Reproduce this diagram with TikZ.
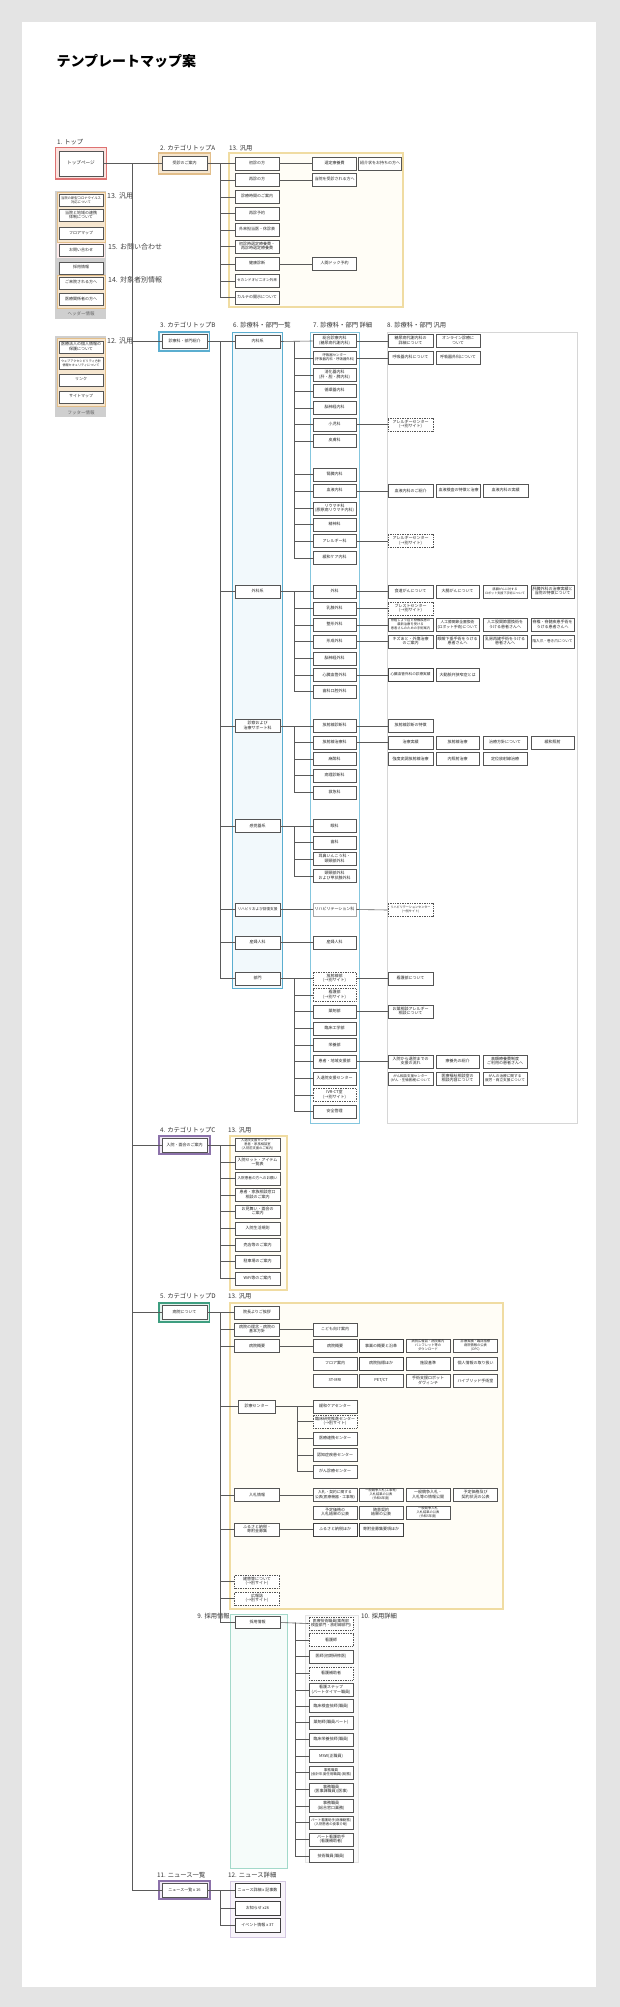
\documentclass[tikz,border=0pt]{standalone}
\usepackage{fontspec}
\setmainfont{Noto Sans CJK JP}
\usepackage{adjustbox}
\definecolor{bgc}{HTML}{E4E4E4}
\definecolor{boxc}{HTML}{555555}
\definecolor{linec}{HTML}{5A5A5A}
\definecolor{yelc}{HTML}{F0DCA2}
\definecolor{yelf}{HTML}{FFFDF6}
\definecolor{redc}{HTML}{DE7272}
\definecolor{redf}{HTML}{FBE2DE}
\definecolor{tanc}{HTML}{E2BE8A}
\definecolor{tanf}{HTML}{F6E6CF}
\definecolor{hdrc}{HTML}{CFCFCF}
\definecolor{bluc}{HTML}{5BAED0}
\definecolor{bluf}{HTML}{F2F9FC}
\definecolor{blu2}{HTML}{84C6DE}
\definecolor{grc}{HTML}{D6D6D6}
\definecolor{grnc}{HTML}{3E9E80}
\definecolor{grnf}{HTML}{E2F2EC}
\definecolor{purc}{HTML}{8C72AA}
\definecolor{purf}{HTML}{F0E9F6}
\definecolor{pur2}{HTML}{D4C8E2}
\definecolor{tealc}{HTML}{A3D9CA}
\definecolor{tealf}{HTML}{F6FCFA}
\newcommand{\T}[1]{\adjustbox{max totalsize={40pt}{11.6pt}}{\begin{tabular}{@{}c@{}}#1\end{tabular}}}
\newcommand{\B}[4][]{\node[bx,#1] (#2) at (#3) {\T{#4}};}
\tikzset{
  bx/.style={draw=boxc, fill=white, line width=0.55pt, minimum width=44pt, minimum height=13pt, inner sep=0pt, font=\fontsize{4}{4.6}\selectfont, text=black!85},
  dsh/.style={dash pattern=on 1pt off 0.7pt},
  lite/.style={draw=black!35},
  shd/.style={line width=0.9pt, draw=black!75},
  ln/.style={draw=linec, line width=0.6pt},
  lb/.style={font=\fontsize{6.3}{7}\selectfont, anchor=west, inner sep=0pt, text=black!80},
  hlb/.style={font=\fontsize{7}{8}\selectfont, anchor=west, inner sep=0pt, text=black!75},
  yfr/.style={draw=yelc, fill=yelf, line width=1.2pt},
}
\begin{document}
\begin{tikzpicture}[x=1pt,y=-1pt]
\useasboundingbox (0,0) rectangle (620,2007);
\fill[bgc] (0,0) rectangle (620,2007);
\fill[white] (22,22) rectangle (596,1987);

\node[anchor=west, font=\fontsize{14}{16}\selectfont\bfseries] (title) at (53,61.5) {テンプレートマップ案};

% ---------- frames ----------
\draw[draw=redc, fill=redf, line width=1.3pt] (55.5,147.5) rectangle (106.5,179);
\fill[hdrc] (55,191) rectangle (106,319);
\fill[tanf] (57,192.5) rectangle (105,242);
\draw[tanc, line width=0.8pt] (57,192.5) rectangle (105,242);
\fill[white!92!red] (57,243) rectangle (105,258);
\fill[tanf] (57,275) rectangle (105,308);
\draw[tanc, line width=0.8pt] (57,275) rectangle (105,308);
\fill[hdrc] (55,336) rectangle (106,417);
\fill[tanf] (57,338) rectangle (105,406);
\draw[tanc, line width=0.8pt] (57,338) rectangle (105,406);

\draw[draw=tanc, fill=tanf, line width=1.3pt] (158.5,153) rectangle (210.5,174);
\draw[yfr] (229,153) rectangle (403,307);
\draw[draw=bluc, fill=bluf, line width=1.3pt] (159,332) rectangle (209.5,351);
\draw[draw=bluc, fill=bluf, line width=1pt] (232,332) rectangle (282,988);
\draw[draw=blu2, fill=white, line width=0.8pt] (310,332) rectangle (359,1123);
\draw[draw=grc, fill=white, line width=0.8pt] (387,332) rectangle (577,1123);
\draw[draw=purc, fill=purf, line width=1.3pt] (159,1136) rectangle (210,1154);
\draw[yfr] (230,1136) rectangle (287,1290);
\draw[draw=grnc, fill=grnf, line width=1.3pt] (159,1303) rectangle (209.5,1322);
\draw[yfr] (230,1303) rectangle (503,1609);
\draw[draw=tealc, fill=tealf, line width=1pt] (230,1614) rectangle (287,1868);
\draw[draw=black!10, fill=black!2, line width=0.6pt] (305,1615) rectangle (358,1862);
\draw[draw=purc, fill=purf, line width=1.3pt] (159,1881) rectangle (210,1899);
\draw[draw=pur2, fill=purf!50, line width=1pt] (230,1881) rectangle (285,1937);

% ---------- labels ----------
\node[lb] (L1) at (57,142.5) {1. トップ};
\node[hlb] (Lh13) at (107,196) {13. 汎用};
\node[hlb] (Lh15) at (108,247) {15. お問い合わせ};
\node[hlb] (Lh14) at (108,280) {14. 対象者別情報};
\node[hlb] (Lf12) at (107,341) {12. 汎用};
\node[font=\fontsize{4.5}{5}\selectfont, text=black!60] (Lhd) at (81,313.5) {ヘッダー情報};
\node[font=\fontsize{4.5}{5}\selectfont, text=black!60] (Lft) at (81,412.5) {フッター情報};
\node[lb] (L2) at (160,148) {2. カテゴリトップA};
\node[lb] (L13a) at (229,148) {13. 汎用};
\node[lb] (L3) at (160,325.5) {3. カテゴリトップB};
\node[lb] (L6) at (233,325.5) {6. 診療科・部門一覧};
\node[lb] (L7) at (313,325.5) {7. 診療科・部門 詳細};
\node[lb] (L8) at (387,325.5) {8. 診療科・部門 汎用};
\node[lb] (L4) at (160,1130) {4. カテゴリトップC};
\node[lb] (L13c) at (228,1130) {13. 汎用};
\node[lb] (L5) at (160,1296.5) {5. カテゴリトップD};
\node[lb] (L13d) at (228,1296.5) {13. 汎用};
\node[lb, anchor=east] (L9) at (230,1616) {9. 採用情報};
\node[lb] (L10) at (361,1616) {10. 採用詳細};
\node[lb] (L11) at (157,1875) {11. ニュース一覧};
\node[lb] (L12) at (228,1875) {12. ニュース詳細};

% ---------- top / header / footer ----------
\B[minimum height=25pt, font=\fontsize{4.6}{5.2}\selectfont]{tp}{81,163.5}{トップページ}
\B[minimum height=12pt]{hd1}{81,200.5}{当院の新型コロナウイルス\\対応について}
\B[minimum height=12pt]{hd2}{81,215.5}{当院と地域の連携\\体制について}
\B[minimum height=12pt]{hd3}{81,233.5}{フロアマップ}
\B[minimum height=12pt]{hd4}{81,250.5}{お問い合わせ}
\B[minimum height=12pt]{hd5}{81,268}{採用情報}
\B[minimum height=12pt]{hd6}{81,283}{ご来院される方へ}
\B[minimum height=12pt]{hd7}{81,299.5}{医療関係者の方へ}
\B[minimum height=12pt]{ft1}{81,347}{医療法人の個人情報の\\保護について}
\B[minimum height=12pt]{ft2}{81,363.5}{ウェブアクセシビリティ方針\\情報セキュリティについて}
\B[minimum height=12pt]{ft3}{81,380}{リンク}
\B[minimum height=12pt]{ft4}{81,397}{サイトマップ}

% ---------- category A ----------
\B[minimum width=45pt, minimum height=14pt]{A}{184.5,163.5}{受診のご案内}
\B{a1}{257,163.5}{初診の方}
\B{a2}{257,180}{再診の方}
\B{a3}{257,197}{診療時間のご案内}
\B{a4}{257,213.5}{再診予約}
\B{a5}{257,230}{外来担当医・休診表}
\B{a6}{257,246.5}{初診時選定療養費・\\再診時選定療養費}
\B{a7}{257,264}{健康診断}
\B{a8}{257,281}{セカンドオピニオン外来}
\B{a9}{257,297.5}{カルテの開示について}
\B{a1x}{334.5,163.5}{選定療養費}
\B[minimum width=43pt]{a1y}{380,163.5}{紹介状をお持ちの方へ}
\B{a2x}{334.5,180}{当院を受診される方へ}
\B{a7x}{334.5,264}{人間ドック予約}

% ---------- category B ----------
\B[minimum width=45pt, minimum height=14pt]{B}{184.5,341.5}{診療科・部門紹介}
\B[minimum width=45pt]{b1}{257.5,341.5}{内科系}
\B[minimum width=45pt]{b2}{257.5,591.5}{外科系}
\B[minimum width=45pt]{b3}{257.5,726}{診察および\\治療サポート科}
\B[minimum width=45pt]{b4}{257.5,826}{感覚器系}
\B[minimum width=45pt]{b5}{257.5,909.5}{リハビリおよび回復支援}
\B[minimum width=45pt]{b6}{257.5,942.5}{産婦人科}
\B[minimum width=45pt]{b7}{257.5,978.5}{部門}

\tikzset{c7/.style={minimum width=43pt}}
\B[c7]{c1}{334.5,341}{総合診療内科\\(糖尿病代謝内科)}
\B[c7]{c2}{334.5,358}{呼吸器センター\\(呼吸器内科・呼吸器外科)}
\B[c7]{c3}{334.5,375}{消化器内科\\(肝・胆・膵内科)}
\B[c7]{c4}{334.5,391}{循環器内科}
\B[c7]{c5}{334.5,408}{脳神経内科}
\B[c7]{c6}{334.5,424.5}{小児科}
\B[c7]{c7}{334.5,441}{皮膚科}
\B[c7]{c8}{334.5,474.5}{腎臓内科}
\B[c7]{c9}{334.5,491}{血液内科}
\B[c7]{c10}{334.5,508.5}{リウマチ科\\(膠原病リウマチ内科)}
\B[c7]{c11}{334.5,524.5}{精神科}
\B[c7]{c12}{334.5,541}{アレルギー科}
\B[c7]{c13}{334.5,558}{緩和ケア内科}
\B[minimum width=45pt]{c1a}{410.5,341}{糖尿病代謝内科の\\詳細について}
\B{c1b}{458,341}{オンライン診療に\\ついて}
\B[minimum width=45pt]{c2a}{410.5,358}{呼吸器内科について}
\B{c2b}{458,358}{呼吸器外科について}
\B[minimum width=45pt, dsh]{c6a}{410.5,424.5}{アレルギーセンター\\(→別サイト)}
\B[minimum width=45pt]{c9a}{410.5,491}{血液内科のご紹介}
\B{c9b}{458.5,491}{血液検査の特徴と治療}
\B[minimum width=45pt]{c9c}{505.5,491}{血液内科の実績}
\B[minimum width=45pt, dsh]{c12a}{410.5,541}{アレルギーセンター\\(→別サイト)}

\B[c7]{d1}{334.5,591.5}{外科}
\B[c7]{d2}{334.5,608.5}{乳腺外科}
\B[c7]{d3}{334.5,625}{整形外科}
\B[c7]{d4}{334.5,641.5}{形成外科}
\B[c7]{d5}{334.5,658.5}{脳神経外科}
\B[c7]{d6}{334.5,675}{心臓血管外科}
\B[c7]{d7}{334.5,691.5}{歯科口腔外科}
\B[minimum width=45pt]{d1a}{410.5,591.5}{食道がんについて}
\B[minimum width=43pt]{d1b}{457.5,591.5}{大腸がんについて}
\B[minimum width=44pt]{d1c}{505,591.5}{膵臓がんに対する\\ロボット支援下手術について}
\B[minimum width=43pt]{d1d}{552.5,591.5}{肝臓外科の治療実績と\\当院の特徴について}
\B[minimum width=45pt, dsh]{d2a}{410.5,608.5}{ブレストセンター\\(→別サイト)}
\B[minimum width=45pt]{d3a}{410.5,625}{骨粗しょう症と脊椎疾患の\\最新治療を受ける\\患者さんのための手術案内}
\B[minimum width=43pt]{d3b}{457.5,625}{人工膝関節全置換術\\(ロボット手術)について}
\B[minimum width=44pt]{d3c}{505,625}{人工股関節置換術を\\うける患者さんへ}
\B[minimum width=43pt]{d3d}{552.5,625}{脊椎・脊髄疾患手術を\\うける患者さんへ}
\B[minimum width=45pt]{d4a}{410.5,641.5}{キズあと・外傷治療\\のご案内}
\B[minimum width=43pt]{d4b}{457.5,641.5}{眼瞼下垂手術をうける\\患者さんへ}
\B[minimum width=44pt]{d4c}{505,641.5}{乳房再建手術をうける\\患者さんへ}
\B[minimum width=43pt]{d4d}{552.5,641.5}{陥入爪・巻き爪について}
\B[minimum width=45pt, shd]{d6a}{410.5,675}{心臓血管外科の診療実績}
\B[minimum width=43pt]{d6b}{457.5,675}{大動脈弁狭窄症とは}

\B[c7]{e1}{334.5,726}{放射線診断科}
\B[c7]{e2}{334.5,742.5}{放射線治療科}
\B[c7]{e3}{334.5,759}{麻酔科}
\B[c7]{e4}{334.5,775.5}{病理診断科}
\B[c7]{e5}{334.5,792.5}{救急科}
\B[minimum width=45pt]{e1a}{410.5,726}{放射線診断の特徴}
\B[minimum width=45pt]{e2a}{410.5,742.5}{治療実績}
\B[minimum width=43pt]{e2b}{457.5,742.5}{放射線治療}
\B[minimum width=44pt]{e2c}{505,742.5}{治療方針について}
\B[minimum width=43pt]{e2d}{552.5,742.5}{緩和照射}
\B[minimum width=45pt]{e2e}{410.5,759}{強度変調放射線治療}
\B[minimum width=43pt]{e2f}{457.5,759}{内照射治療}
\B[minimum width=44pt]{e2g}{505,759}{定位放射線治療}

\B[c7]{f1}{334.5,826}{眼科}
\B[c7]{f2}{334.5,842.5}{歯科}
\B[c7]{f3}{334.5,859}{耳鼻いんこう科・\\頭頸部外科}
\B[c7]{f4}{334.5,876}{頭頸部外科\\および甲状腺外科}

\B[c7, lite]{g1}{334.5,909.5}{リハビリテーション科}
\B[minimum width=45pt, dsh]{g1a}{410.5,910}{リハビリテーションセンター\\(→別サイト)}
\B[c7]{g2}{334.5,942.5}{産婦人科}

\B[c7, dsh]{h1}{334.5,978.5}{放射線部\\(→別サイト)}
\B[c7, dsh]{h2}{334.5,995}{看護部\\(→別サイト)}
\B[c7]{h3}{334.5,1011.5}{薬剤部}
\B[c7]{h4}{334.5,1028.5}{臨床工学部}
\B[c7]{h5}{334.5,1045}{栄養部}
\B[c7]{h6}{334.5,1061.5}{患者・地域支援部}
\B[c7]{h7}{334.5,1078.5}{入退院支援センター}
\B[c7, dsh]{h8}{334.5,1095}{IVR-CT室\\(→別サイト)}
\B[c7]{h9}{334.5,1111.5}{安全管理}
\B[minimum width=45pt]{h1a}{410.5,978.5}{看護部について}
\B[minimum width=45pt]{h3a}{410.5,1011.5}{お薬相談アレルギー\\相談について}
\B[minimum width=45pt]{h6a}{410.5,1061.5}{入院から退院までの\\支援の流れ}
\B[minimum width=43pt]{h6b}{457.5,1061.5}{療養先の紹介}
\B[minimum width=44pt]{h6c}{505,1061.5}{高額療養費制度\\ご利用の患者さんへ}
\B[minimum width=45pt]{h6d}{410.5,1078.5}{がん相談支援センター\\(がん・生殖医療)について}
\B[minimum width=43pt]{h6e}{457.5,1078.5}{医療福祉相談室の\\相談内容について}
\B[minimum width=44pt]{h6f}{505,1078.5}{がんの治療に関する\\就労・両立支援について}

% ---------- category C ----------
\B[minimum width=45pt, minimum height=14pt]{C}{184.5,1145}{入院・面会のご案内}
\tikzset{ci/.style={minimum width=45pt}}
\B[ci]{i1}{257.5,1145}{入退院支援センター・\\患者・家族相談室\\(入院前支援のご案内)}
\B[ci]{i2}{257.5,1162.5}{入院セット・アイテム\\一覧表}
\B[ci]{i3}{257.5,1178.5}{入院患者の方へのお願い}
\B[ci]{i4}{257.5,1195}{患者・家族相談窓口\\相談のご案内}
\B[ci]{i5}{257.5,1211.5}{お見舞い・面会の\\ご案内}
\B[ci]{i6}{257.5,1228.5}{入院生活規則}
\B[ci]{i7}{257.5,1245}{売店等のご案内}
\B[ci]{i8}{257.5,1261.5}{駐車場のご案内}
\B[ci]{i9}{257.5,1278.5}{WiFi等のご案内}

% ---------- category D ----------
\B[minimum width=45pt, minimum height=14pt]{D}{184.5,1312.5}{病院について}
\B[ci]{j1}{257,1312.5}{院長よりご挨拶}
\B[ci]{j2}{257,1329.5}{病院の理念・病院の\\基本方針}
\B[ci]{j3}{257,1346}{病院概要}
\B[minimum width=37pt]{j4}{256.5,1406.5}{診療センター}
\B[ci]{j5}{257,1495}{入札情報}
\B[ci]{j6}{257,1529.5}{ふるさと納税・\\寄附金募集}
\B[ci, dsh]{j7}{257,1581.5}{建替等について\\(→別サイト)}
\B[ci, dsh]{j8}{257,1598.5}{広報誌\\(→別サイト)}
\B{j2a}{335,1329.5}{こども向け案内}
\B{j3a}{335,1346}{病院概要}
\B[shd]{j3b}{381,1346}{事業の概要と沿革}
\B{j3c}{428,1346}{病院広報誌・病院案内\\パンフレット等の\\ダウンロード}
\B{j3d}{475.5,1346}{診療実績・臨床指標\\病院情報の公表\\(DPC)}
\B{j3e}{335,1363.5}{フロア案内}
\B[shd]{j3f}{381,1363.5}{病院指標ほか}
\B{j3g}{428,1363.5}{施設基準}
\B{j3h}{475.5,1363.5}{個人情報の取り扱い}
\B{j3i}{335,1381}{3T-MRI}
\B{j3j}{381,1381}{PET/CT}
\B{j3k}{428,1381}{手術支援ロボット\\ダヴィンチ}
\B{j3l}{475.5,1381}{ハイブリッド手術室}
\B{k1}{335,1406.5}{緩和ケアセンター}
\B[dsh]{k2}{335,1421.5}{臨床研究推進センター\\(→別サイト)}
\B{k3}{335,1438.5}{医療連携センター}
\B{k4}{335,1455}{認知症疾患センター}
\B{k5}{335,1471.5}{がん診療センター}
\B{j5a}{335,1495}{入札・契約に関する\\公表(医療機器・工事等)}
\B{j5b}{381,1495}{一般競争入札(工事等)\\入札結果の公表\\(令和6年度)}
\B{j5c}{428,1495}{一般競争入札・\\入札等の情報公開}
\B{j5d}{475.5,1495}{予定価格及び\\契約状況の公表}
\B{j5e}{335,1512.5}{予定価格の\\入札結果の公表}
\B{j5f}{381,1512.5}{随意契約\\結果の公表}
\B{j5g}{428,1512.5}{一般競争入札\\入札結果の公表\\(令和5年度)}
\B[shd]{j6a}{335,1529.5}{ふるさと納税ほか}
\B[shd]{j6b}{381,1529.5}{寄附金募集要項ほか}

% ---------- recruit ----------
\B[ci, minimum height=12pt]{R0}{257.5,1622.5}{採用情報}
\B[dsh]{l1}{331,1623.5}{医療技術職員(薬剤部\\検査部門・放射線部門)}
\B[dsh]{l2}{331,1640}{看護師}
\B{l3}{331,1656.5}{医師(初期研修医)}
\B[dsh]{l4}{331,1673.5}{看護補助者}
\B{l5}{331,1690}{看護ステップ\\(パートタイマー職員)}
\B{l6}{331,1706}{臨床検査技師(職員)}
\B{l7}{331,1722.5}{薬剤師(職員パート)}
\B{l8}{331,1739.5}{臨床栄養技師(職員)}
\B{l9}{331,1756}{MSW(正職員)}
\B{l10}{331,1772.5}{事務職員\\(会計年度任用職員)(総務)}
\B{l11}{331,1789.5}{事務職員\\(医事課職員)(医事)}
\B{l12}{331,1806}{事務職員\\(総合窓口業務)}
\B{l13}{331,1822.5}{パート看護助手(病棟勤務)\\(入院患者の食事介助)}
\B{l14}{331,1839.5}{パート看護助手\\(看護補助者)}
\B{l15}{331,1856}{技術職員(職員)}

% ---------- news ----------
\B[minimum width=45pt, minimum height=14pt]{NL}{184.5,1890}{ニュース一覧 x 16}
\B[ci, shd, minimum height=14pt]{n1}{257.5,1890}{ニュース詳細 x 記事数}
\B[ci, shd, minimum height=14pt]{n2}{257.5,1908}{お知らせ x26}
\B[ci, shd, minimum height=14pt]{n3}{257.5,1925.5}{イベント情報 x 37}

% ---------- connectors ----------
\coordinate (spT) at (132,163.5);
\coordinate (spB) at (132,1890);
\draw[ln] (tp.east) -- (A.west);
\draw[ln] (spT) -- (spB);
\draw[ln] (spT |- B.west) -- (B.west);
\draw[ln] (spT |- C.west) -- (C.west);
\draw[ln] (spT |- D.west) -- (D.west);
\draw[ln] (spB) -- (NL.west);

\coordinate (vA) at (220,163.5);
\draw[ln] (A.east) -- (a1.west);
\foreach \n in {a2,a3,a4,a5,a6,a7,a8,a9} \draw[ln] (vA) |- (\n.west);
\draw[ln] (a1.east) -- (a1x.west);
\draw[ln] (a2.east) -- (a2x.west);
\draw[ln] (a7.east) -- (a7x.west);

\coordinate (vB) at (220,341.5);
\draw[ln] (B.east) -- (b1.west);
\foreach \n in {b2,b3,b4,b5,b6,b7} \draw[ln] (vB) |- (\n.west);

\coordinate (v1) at (294,341.5);
\draw[ln] (b1.east) -- (c1.west);
\foreach \n in {c2,c3,c4,c5,c6,c7,c8,c9,c10,c11,c12,c13} \draw[ln] (v1) |- (\n.west);
\coordinate (v2) at (294,591.5);
\draw[ln] (b2.east) -- (d1.west);
\foreach \n in {d2,d3,d4,d5,d6,d7} \draw[ln] (v2) |- (\n.west);
\coordinate (v3) at (294,726);
\draw[ln] (b3.east) -- (e1.west);
\foreach \n in {e2,e3,e4,e5} \draw[ln] (v3) |- (\n.west);
\coordinate (v4) at (294,826);
\draw[ln] (b4.east) -- (f1.west);
\foreach \n in {f2,f3,f4} \draw[ln] (v4) |- (\n.west);
\draw[ln] (b5.east) -- (g1.west);
\draw[ln] (b6.east) -- (g2.west);
\coordinate (v7) at (294,978.5);
\draw[ln] (b7.east) -- (h1.west);
\foreach \n in {h2,h3,h4,h5,h6,h7,h8,h9} \draw[ln] (v7) |- (\n.west);

\foreach \p/\q in {c1/c1a,c2/c2a,c6/c6a,c9/c9a,c12/c12a,d1/d1a,d2/d2a,d3/d3a,d4/d4a,d6/d6a,e1/e1a,e2/e2a,g1/g1a,h1/h1a,h3/h3a,h6/h6a}
  \draw[ln] (\p.east) -- (\q.west);

\coordinate (vC) at (220,1145);
\draw[ln] (C.east) -- (i1.west);
\foreach \n in {i2,i3,i4,i5,i6,i7,i8,i9} \draw[ln] (vC) |- (\n.west);

\coordinate (vD) at (220,1312.5);
\draw[ln] (D.east) -- (j1.west);
\foreach \n in {j2,j3,j4,j5,j6,j7,j8,R0} \draw[ln] (vD) |- (\n.west);
\foreach \p/\q in {j2/j2a,j3/j3a,j5/j5a,j6/j6a} \draw[ln] (\p.east) -- (\q.west);
\coordinate (vK) at (297,1406.5);
\draw[ln] (j4.east) -- (k1.west);
\foreach \n in {k2,k3,k4,k5} \draw[ln] (vK) |- (\n.west);

\coordinate (vR) at (295,1622.5);
\draw[ln] (R0.east) -- (l1.west);
\foreach \n in {l2,l3,l4,l5,l6,l7,l8,l9,l10,l11,l12,l13,l14,l15} \draw[ln] (vR) |- (\n.west);

\coordinate (vN) at (220,1890);
\draw[ln] (NL.east) -- (n1.west);
\foreach \n in {n2,n3} \draw[ln] (vN) |- (\n.west);
\end{tikzpicture}
\end{document}
